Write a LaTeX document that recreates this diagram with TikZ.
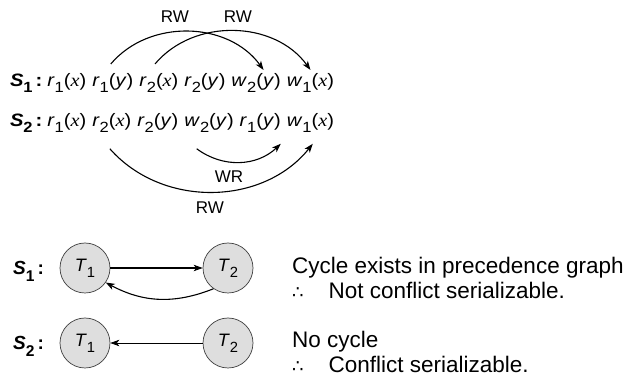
\documentclass[tikz,border=0pt]{standalone}
\usepackage{fontspec}
\setmainfont{Liberation Sans}
\newfontfamily\wsans[FakeStretch=1.12]{Liberation Sans}
\newfontfamily\wserif[FakeStretch=1.12]{Liberation Serif}
\newfontfamily\djv{DejaVu Sans}
\usetikzlibrary{arrows.meta,calc}
\newcommand\fs[1]{\fontsize{#1}{#1}\selectfont}
\newcommand\sbs[1]{\raisebox{-0.32em}{\scalebox{0.82}{#1}}}
\newcommand\opx[2]{\textit{#1}\sbs{#2}({\wserif\itshape x})}
\newcommand\opy[2]{\textit{#1}\sbs{#2}(\textit{y})}
\newcommand\sname[1]{\textbf{\textit{S}\sbs{#1}\,:}}
\tikzset{
  seq/.style={inner sep=0pt, outer sep=0pt, anchor=base west, font=\wsans\fs{18}},
  lbl/.style={inner sep=0pt, font=\fs{17}},
  dep/.style={line width=1.1pt, -{Stealth[length=9pt,width=6.5pt,inset=2.5pt]}},
  tx/.style={circle, draw=black!75, fill=black!13, minimum size=50pt, inner sep=0pt, line width=0.7pt, font=\fs{18}},
  edge/.style={line width=1.1pt, -{Stealth[length=9pt,width=6.5pt,inset=2.5pt]}},
  thinedge/.style={line width=0.7pt, -{Stealth[length=9pt,width=6.5pt,inset=2.5pt]}},
  note/.style={inner sep=0pt, anchor=base west, font=\fs{22.5}},
  slabel/.style={inner sep=0pt, anchor=base west, font=\fs{19}},
}
\begin{document}
\begin{tikzpicture}[x=1pt,y=-1pt]
\useasboundingbox (0,0) rectangle (625,379);
% schedule S1
\node[seq] (l1) at (10,87) {\sname{1}};
\node[seq] (a1) at ([xshift=5]l1.base east) {\opx{r}{1}};
\node[seq] (a2) at ([xshift=6]a1.base east) {\opy{r}{1}};
\node[seq] (a3) at ([xshift=6]a2.base east) {\opx{r}{2}};
\node[seq] (a4) at ([xshift=6]a3.base east) {\opy{r}{2}};
\node[seq] (a5) at ([xshift=6]a4.base east) {\opy{w}{2}};
\node[seq] (a6) at ([xshift=6]a5.base east) {\opx{w}{1}};
% schedule S2
\node[seq] (l2) at (10,127) {\sname{2}};
\node[seq] (b1) at ([xshift=5]l2.base east) {\opx{r}{1}};
\node[seq] (b2) at ([xshift=6]b1.base east) {\opx{r}{2}};
\node[seq] (b3) at ([xshift=6]b2.base east) {\opy{r}{2}};
\node[seq] (b4) at ([xshift=6]b3.base east) {\opy{w}{2}};
\node[seq] (b5) at ([xshift=6]b4.base east) {\opy{r}{1}};
\node[seq] (b6) at ([xshift=6]b5.base east) {\opx{w}{1}};
% conflict arcs S1
\draw[dep] ([yshift=10]$(a2.north west)!0.45!(a2.north east)$) to[bend left=52] ([yshift=4]$(a5.north west)!0.65!(a5.north east)$);
\draw[dep] ([yshift=10]$(a3.north west)!0.4!(a3.north east)$) to[bend left=52] ([yshift=4]$(a6.north west)!0.5!(a6.north east)$);
\node[lbl] (rw1) at (175,17) {RW};
\node[lbl] (rw2) at (238,17) {RW};
% conflict arcs S2
\draw[dep] ([yshift=-16]$(b4.south west)!0.25!(b4.south east)$) to[bend right=40] ([yshift=-11]b5.south east);
\draw[dep] ([yshift=-16]$(b2.south west)!0.45!(b2.south east)$) to[bend right=50] ([yshift=-11]$(b6.south west)!0.55!(b6.south east)$);
\node[lbl] (wr) at (229,177) {WR};
\node[lbl] (rw3) at (210,208) {RW};
% precedence graphs
\node[slabel] (g1) at (13,275) {\sname{1}};
\node[tx] (t11) at (85,268) {\textit{T}\sbs{1}};
\node[tx] (t12) at (228,268) {\textit{T}\sbs{2}};
\draw[edge] (t11) -- (t12);
\draw[edge] (t12.235) to[bend left=25] (t11.-35);
\node[slabel] (g2) at (13,350) {\sname{2}};
\node[tx] (t21) at (85,343) {\textit{T}\sbs{1}};
\node[tx] (t22) at (228,343) {\textit{T}\sbs{2}};
\draw[thinedge] (t22) -- (t21);
% conclusions
\node[note] (c1) at (292,274) {Cycle exists in precedence graph};
\node[note] (c2) at (292,299) {{\djv\fs{18}∴}\hspace{25pt}Not conflict serializable.};
\node[note] (c3) at (292,348) {No cycle};
\node[note] (c4) at (292,373) {{\djv\fs{18}∴}\hspace{25pt}Conflict serializable.};
\end{tikzpicture}
\end{document}
